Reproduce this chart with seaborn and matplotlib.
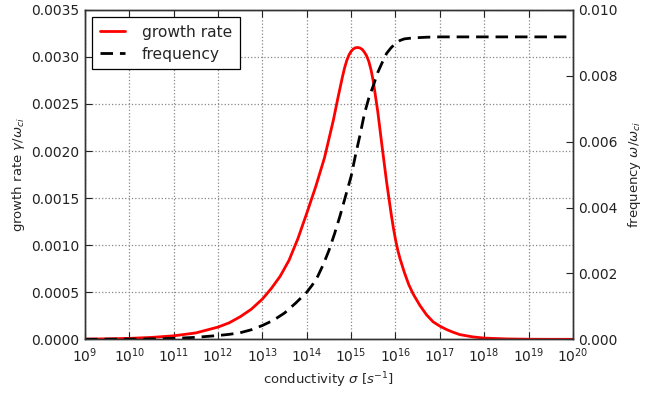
import numpy as np
import pandas as pd
import matplotlib
matplotlib.use("Agg")
import matplotlib.pyplot as plt
import seaborn as sns

# log10 of conductivity and growth rate gamma/omega_ci
growth_log_sigma = [9.0, 9.5, 10.0, 10.5, 11.0, 11.5, 12.0, 12.25, 12.5, 12.75, 13.0, 13.2,
                    13.4, 13.6, 13.8, 14.0, 14.2, 14.4, 14.6, 14.7, 14.8, 14.85, 14.9, 14.95,
                    15.0, 15.05, 15.1, 15.15, 15.2, 15.25, 15.3, 15.35, 15.4, 15.45, 15.5,
                    15.6, 15.7, 15.8, 15.9, 15.95, 16.0, 16.05, 16.1, 16.2, 16.3,
                    16.4, 16.55, 16.7, 16.85, 17.0, 17.15, 17.3, 17.45, 17.75, 18.0, 18.5,
                    19.0, 19.5, 20.0]
growth_rate = [0.0000025, 0.000005, 0.000010, 0.000020, 0.000037, 0.000068, 0.000130,
               0.000175, 0.000240, 0.000320, 0.000428, 0.000540, 0.000670, 0.000840,
               0.001070, 0.001340, 0.001620, 0.001930, 0.002330, 0.002560, 0.002780,
               0.002880, 0.002960, 0.003020, 0.003060, 0.003085, 0.003098, 0.003100,
               0.003095, 0.003080, 0.003050, 0.003010, 0.002950, 0.002860, 0.002740,
               0.002420, 0.002040, 0.001670, 0.001340, 0.001190, 0.001060, 0.000950,
               0.000860, 0.000710, 0.000580, 0.000480, 0.000360, 0.000260, 0.000185,
               0.000140, 0.000104, 0.000075, 0.000050, 0.000025, 0.000013, 0.000004,
               0.000001, 0.0, 0.0]

# log10 of conductivity and frequency omega/omega_ci
freq_log_sigma = [9.0, 9.5, 10.0, 10.5, 11.0, 11.5, 12.0, 12.25, 12.5, 12.75, 13.0, 13.25,
                  13.5, 13.75, 14.0, 14.125, 14.25, 14.375, 14.5, 14.625, 14.75, 14.875,
                  15.0, 15.1, 15.2, 15.3, 15.4, 15.5, 15.6, 15.7, 15.8, 15.9, 16.0, 16.1,
                  16.2, 16.4, 16.7, 17.0, 18.0, 19.0, 20.0]
frequency = [0.0, 0.000003, 0.000006, 0.000012, 0.000028, 0.000060, 0.000115, 0.000150,
             0.000200, 0.000290, 0.000420, 0.000580, 0.000800, 0.001100, 0.001430,
             0.001650, 0.001920, 0.002280, 0.002700, 0.003200, 0.003750, 0.004350,
             0.004950, 0.005600, 0.006200, 0.006850, 0.007330, 0.007700, 0.008100,
             0.008400, 0.008680, 0.008850, 0.008980, 0.009070, 0.009120, 0.009150,
             0.009170, 0.009180, 0.009180, 0.009180, 0.009180]

x_ticks = [1e9, 1e10, 1e11, 1e12, 1e13, 1e14, 1e15, 1e16, 1e17, 1e18, 1e19, 1e20]
left_ticks = [0.0, 0.0005, 0.0010, 0.0015, 0.0020, 0.0025, 0.0030, 0.0035]
right_ticks = [0.0, 0.002, 0.004, 0.006, 0.008, 0.010]

sns.set_style("ticks")
plt.rcParams["font.family"] = ["DejaVu Sans"]
plt.rcParams["mathtext.fontset"] = "dejavusans"

df_g = pd.DataFrame({"sigma": 10.0 ** np.array(growth_log_sigma), "value": growth_rate})
df_f = pd.DataFrame({"sigma": 10.0 ** np.array(freq_log_sigma), "value": frequency})

fig = plt.figure(figsize=(6.54, 3.95), dpi=100)
ax1 = fig.add_axes([0.130, 0.141, 0.746, 0.834])
ax2 = ax1.twinx()

sns.lineplot(data=df_g, x="sigma", y="value", ax=ax1, color="#ff0000", lw=2,
             label="growth rate", legend=False)
sns.lineplot(data=df_f, x="sigma", y="value", ax=ax2, color="black", lw=2,
             linestyle="--", label="frequency", legend=False)
ax2.lines[0].set_dashes([4.5, 2.5])

ax1.set_xscale("log")
ax1.set_xlim(1e9, 1e20)
ax1.set_ylim(0, 0.0035)
ax2.set_ylim(0, 0.010)
ax1.set_xticks(x_ticks)
ax1.xaxis.set_minor_locator(matplotlib.ticker.NullLocator())
ax1.set_yticks(left_ticks)
ax1.set_yticklabels([f"{v:.4f}" for v in left_ticks])
ax2.set_yticks(right_ticks)
ax2.set_yticklabels([f"{v:.3f}" for v in right_ticks])

ax1.grid(True, which="major", color="#888888", linestyle=":", linewidth=0.9)
for ax in (ax1, ax2):
    ax.tick_params(direction="in", length=5, width=0.8, labelsize=10, colors="#222222")
    for s in ax.spines.values():
        s.set_color("#333333")
        s.set_linewidth(1.0)
ax1.tick_params(axis="x", top=True, pad=5)
ax1.tick_params(axis="y", pad=4)

ax1.set_xlabel(r"conductivity $\sigma$ $[s^{-1}]$", fontsize=9.5, labelpad=4)
ax1.set_ylabel(r"growth rate $\gamma/\omega_{ci}$", fontsize=9.5, labelpad=3)
ax2.set_ylabel(r"frequency $\omega/\omega_{ci}$", fontsize=9.5, labelpad=6)

h1, l1 = ax1.get_legend_handles_labels()
h2, l2 = ax2.get_legend_handles_labels()
leg = ax2.legend(h1 + h2, l1 + l2, loc="upper left", fontsize=11.2, frameon=True,
                 fancybox=False, edgecolor="black", framealpha=1.0,
                 borderaxespad=0.45, handlelength=1.6, handletextpad=1.1,
                 borderpad=0.5, labelspacing=0.45)
leg.get_frame().set_linewidth(0.9)

fig.savefig("out.png", dpi=100)
